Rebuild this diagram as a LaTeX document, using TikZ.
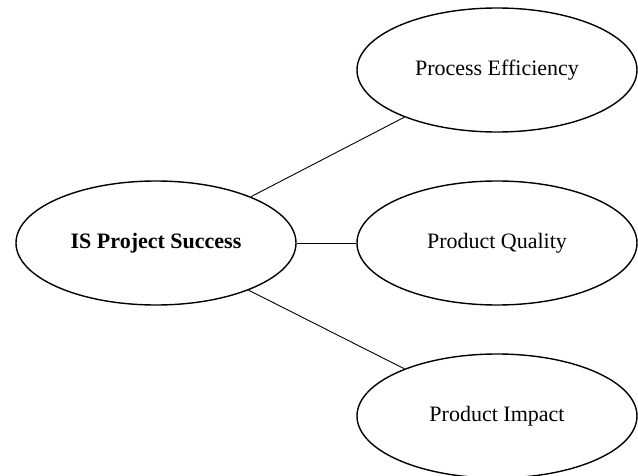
\documentclass[tikz,border=0pt]{standalone}
\usepackage{fontspec}
\setmainfont{Liberation Serif}
\usetikzlibrary{shapes.geometric}

\tikzset{
  factor/.style={ellipse, draw, line width=1.4pt, minimum width=280pt, minimum height=124pt, inner sep=0pt, font=\fontsize{22}{26}\selectfont},
  link/.style={line width=0.9pt}
}

\begin{document}
\begin{tikzpicture}[x=1pt, y=1pt]
    % Parameters
    \def\leftx{156} % Centre of the left ellipse
    \def\rightx{497} % Centre of the right ellipses
    \useasboundingbox (0,0) rectangle (638,475);

    % Main construct
    \node[factor, font=\fontsize{22}{26}\selectfont\bfseries] (success) at (\leftx, 232) {IS Project Success};

    % Dimensions on the right
    \node[factor] (efficiency) at (\rightx, 405) {Process Efficiency};
    \node[factor] (quality) at (\rightx, 232) {Product Quality};
    \node[factor] (impact) at (\rightx, 59) {Product Impact};

    % Connect the construct to its dimensions
    \draw[link] (success.26) -- (efficiency.207.5);
    \draw[link] (success.east) -- (quality.west);
    \draw[link] (success.-27) -- (impact.153);
\end{tikzpicture}
\end{document}
